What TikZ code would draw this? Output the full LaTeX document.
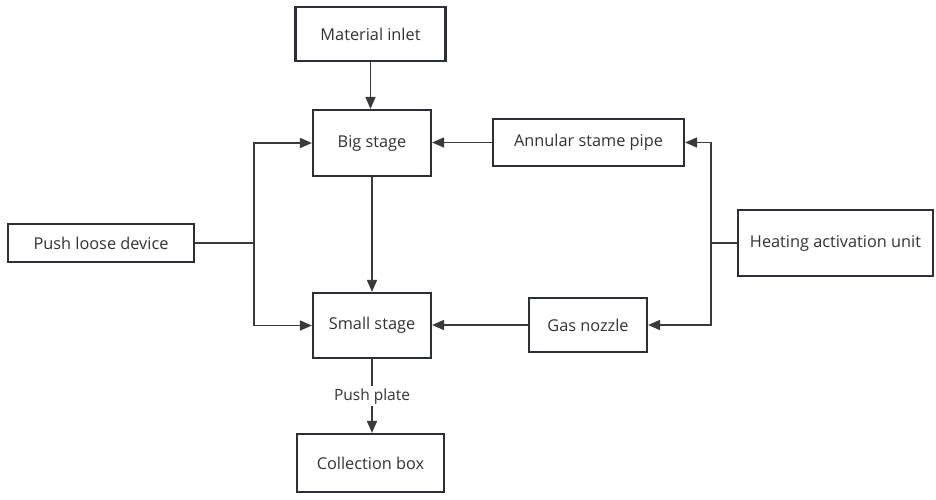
\documentclass[tikz,border=0pt]{standalone}
\usepackage{fontspec}
\setmainfont{Open Sans}
\usetikzlibrary{arrows.meta}
\definecolor{boxline}{HTML}{2B2F36}
\definecolor{conn}{HTML}{3A3A3A}
\definecolor{txt}{HTML}{333333}
\begin{document}
\begin{tikzpicture}[x=1pt,y=-1pt,
  blk/.style={draw=boxline,line width=2.2pt,fill=white,inner sep=0pt,
    font=\fontsize{16.3}{19}\selectfont,text=txt},
  conn/.style={draw=conn,line width=1.7pt},
  arr/.style={conn,-{Triangle[length=12pt,width=10pt]}}]
\useasboundingbox (0,0) rectangle (936,499);
\node[blk,minimum width=150pt,minimum height=54pt] (mi) at (370.5,34) {Material inlet};
\node[blk,minimum width=118pt,minimum height=66pt] (bs) at (372,143) {Big stage};
\node[blk,minimum width=191pt,minimum height=47pt] (an) at (588.5,142.5) {Annular stame pipe};
\node[blk,minimum width=186pt,minimum height=38pt] (pl) at (101,243) {Push loose device};
\node[blk,minimum width=195pt,minimum height=66pt] (ha) at (835.5,243) {Heating activation unit};
\node[blk,minimum width=118pt,minimum height=65pt] (ss) at (372,325.5) {Small stage};
\node[blk,minimum width=118pt,minimum height=54pt] (gn) at (588,325) {Gas nozzle};
\node[blk,minimum width=147pt,minimum height=58pt] (cb) at (370.5,463) {Collection box};
\coordinate (jl) at (254,243);
\coordinate (jr) at (711,243);
\draw[arr] (mi.south) -- (mi.south |- bs.north);
\draw[arr] (bs.south) -- (bs.south |- ss.north);
\draw[arr] (an.west) -- (an.west -| bs.east);
\draw[arr] (gn.west) -- (gn.west -| ss.east);
\draw[conn] (pl.east) -- (jl);
\draw[arr] (jl) |- (bs.west);
\draw[arr] (jl) |- (ss.west);
\draw[conn] (ha.west) -- (jr);
\draw[arr] (jr) |- (an.east);
\draw[arr] (jr) |- (gn.east);
\draw[arr] (ss.south) -- node[fill=white,inner sep=2pt,text=txt,font=\fontsize{15.5}{18}\selectfont] {Push plate} (ss.south |- cb.north);
\end{tikzpicture}
\end{document}
